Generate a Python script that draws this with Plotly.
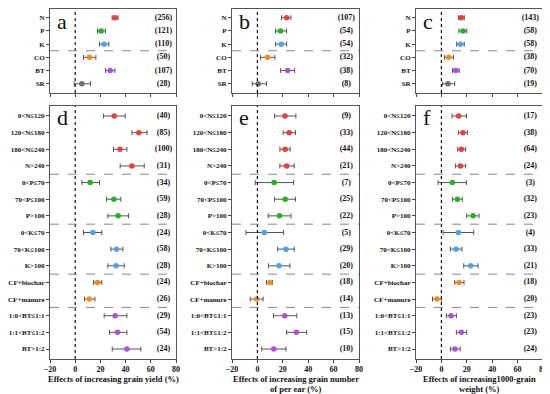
import plotly.graph_objects as go

# ---------------- data ----------------
top_cats = ["N", "P", "K", "CO", "BT", "SR"]
top_colors = ["#e8403c", "#22b422", "#4da3e6", "#f28c1c", "#b050d8", "#707070"]

# panel a: grain yield
a_mean = [31.5, 20.6, 23.0, 11.4, 27.8, 5.3]
a_lo = [29.3, 17.7, 19.3, 6.6, 24.0, -0.8]
a_hi = [34.0, 24.0, 26.7, 16.4, 31.5, 12.2]
a_n = ["(256)", "(121)", "(110)", "(50)", "(107)", "(28)"]

# panel b: grain number per ear
b_mean = [23.0, 18.2, 18.8, 8.0, 23.8, 0.7]
b_lo = [19.0, 14.3, 14.3, 2.5, 18.3, -4.0]
b_hi = [26.4, 23.0, 23.0, 13.8, 29.3, 7.2]
b_n = ["(107)", "(54)", "(54)", "(32)", "(38)", "(8)"]

# panel c: 1000-grain weight
c_mean = [15.7, 17.0, 15.0, 5.7, 11.3, 5.2]
c_lo = [13.5, 13.8, 12.0, 2.4, 8.7, 0.8]
c_hi = [18.0, 20.0, 18.0, 9.5, 14.0, 10.5]
c_n = ["(143)", "(58)", "(58)", "(38)", "(70)", "(19)"]

bot_cats = ["0<N≤120", "120<N≤180", "180<N≤240", "N>240",
            "0<P≤70", "70<P≤100", "P>100",
            "0<K≤70", "70<K≤100", "K>100",
            "CF+biochar", "CF+manure",
            "1:0<BT≤1:1", "1:1<BT≤1:2", "BT>1:2"]
bot_colors = ["#e8403c"] * 4 + ["#22b422"] * 3 + ["#4da3e6"] * 3 + ["#f28c1c"] * 2 + ["#b050d8"] * 3

# panel d
d_mean = [31.0, 50.5, 35.5, 45.0, 11.9, 30.7, 34.1, 14.0, 32.8, 32.5, 17.7, 11.1, 31.7, 33.6, 41.0]
d_lo = [22.5, 45.0, 30.4, 35.7, 5.3, 24.9, 25.9, 6.6, 28.3, 25.9, 14.6, 7.4, 23.0, 27.2, 29.4]
d_hi = [39.7, 57.0, 41.0, 54.8, 19.3, 36.2, 42.3, 21.1, 37.8, 38.9, 21.1, 15.6, 41.0, 41.0, 52.1]
d_n = ["(40)", "(85)", "(100)", "(31)", "(34)", "(59)", "(28)", "(24)", "(58)", "(28)", "(24)", "(26)", "(29)", "(54)", "(24)"]

# panel e
e_mean = [21.7, 25.0, 21.9, 23.0, 13.2, 21.9, 17.4, 5.4, 22.4, 17.0, 9.8, -0.5, 21.5, 30.7, 12.9]
e_lo = [13.5, 20.3, 17.7, 17.7, -1.7, 13.5, 8.5, -9.0, 15.9, 8.7, 7.1, -5.6, 12.7, 23.0, 3.4]
e_hi = [30.3, 30.0, 25.8, 29.0, 28.5, 30.0, 26.4, 20.6, 29.0, 25.6, 11.8, 4.5, 31.0, 38.8, 22.5]
e_n = ["(9)", "(33)", "(44)", "(21)", "(7)", "(25)", "(22)", "(5)", "(29)", "(20)", "(18)", "(14)", "(13)", "(15)", "(10)"]

# panel f
f_mean = [13.6, 17.0, 15.7, 15.0, 8.7, 12.6, 24.9, 13.4, 11.5, 23.0, 13.9, -3.5, 7.6, 15.7, 10.7]
f_lo = [8.4, 13.4, 12.8, 11.0, -2.6, 8.7, 19.9, 1.3, 7.1, 17.6, 10.5, -7.0, 3.9, 11.8, 7.1]
f_hi = [19.7, 20.5, 19.1, 19.1, 19.7, 16.5, 29.6, 25.4, 16.2, 28.8, 17.8, 0.0, 11.8, 19.9, 14.8]
f_n = ["(17)", "(38)", "(64)", "(24)", "(3)", "(32)", "(23)", "(4)", "(33)", "(21)", "(18)", "(20)", "(23)", "(23)", "(24)"]

x_ticks = [-20, 0, 20, 40, 60, 80]
x_titles = [["Effects of increasing grain yield (%)"],
            ["Effects of increasing grain number", "of per ear (%)"],
            ["Effects of increasing1000-grain", "weight (%)"]]
letters = ["a", "b", "c", "d", "e", "f"]

# ---------------- layout ----------------
W, H = 550, 394
OFF = 8  # the page places the figure 8 px from the window's top-left corner
SERIF = "Liberation Serif"
x_doms = [(50, 176), (232, 359), (416, 543)]
top_px = (8.5, 93)
bot_px = (106, 359)


def px_x(v):
    return (v - OFF) / W


def px_y(v):
    return 1 - (v - OFF) / H


def xd(p):
    return [px_x(p[0]), px_x(p[1])]


def yd(p):
    return [px_y(p[1]), px_y(p[0])]


fig = go.Figure()

panels = [
    (top_cats, top_colors, a_mean, a_lo, a_hi, a_n),
    (top_cats, top_colors, b_mean, b_lo, b_hi, b_n),
    (top_cats, top_colors, c_mean, c_lo, c_hi, c_n),
    (bot_cats, bot_colors, d_mean, d_lo, d_hi, d_n),
    (bot_cats, bot_colors, e_mean, e_lo, e_hi, e_n),
    (bot_cats, bot_colors, f_mean, f_lo, f_hi, f_n),
]

shapes = []
annotations = []
for i, (cats, cols, m, lo, hi, ns) in enumerate(panels):
    k = i + 1
    xa = "x" if k == 1 else f"x{k}"
    ya = "y" if k == 1 else f"y{k}"
    pos = list(range(1, len(cats) + 1))
    is_top = i < 3
    fig.add_trace(go.Scatter(
        x=m, y=pos, mode="markers", xaxis=xa, yaxis=ya,
        marker=dict(color=cols, size=5.5, symbol="circle"),
        error_x=dict(type="data", symmetric=False,
                     array=[h - v for h, v in zip(hi, m)],
                     arrayminus=[v - l for v, l in zip(m, lo)],
                     color="#555555", thickness=1, width=2.5),
        showlegend=False, hoverinfo="skip"))
    fig.add_trace(go.Scatter(
        x=[70] * len(cats), y=pos, mode="text", text=ns, xaxis=xa, yaxis=ya,
        textfont=dict(family=SERIF, size=8, color="#111", weight="bold"),
        showlegend=False, hoverinfo="skip"))
    xkey = "xaxis" if k == 1 else f"xaxis{k}"
    ykey = "yaxis" if k == 1 else f"yaxis{k}"
    fig.layout[xkey] = dict(
        domain=xd(x_doms[i % 3]), anchor=ya, range=[-20, 80], automargin=False,
        tickvals=x_ticks, showticklabels=not is_top, ticklabelstandoff=-1,
        ticks="outside", ticklen=3, tickcolor="#444", tickwidth=1,
        showline=True, linecolor="#555", linewidth=1, mirror=True,
        showgrid=False, zeroline=False,
        tickfont=dict(family=SERIF, size=8, color="#111", weight="bold"))
    fig.layout[ykey] = dict(
        domain=yd(top_px if is_top else bot_px), anchor=xa, automargin=False,
        range=[6.7, 0.3] if is_top else [15.6, 0.4],
        tickvals=pos, ticktext=cats, ticklabelstandoff=0,
        ticks="outside", ticklen=3, tickcolor="#444", tickwidth=1,
        showline=True, linecolor="#555", linewidth=1, mirror=True,
        showgrid=False, zeroline=False,
        tickfont=dict(family=SERIF, size=7, color="#111", weight="bold"))
    # zero line
    shapes.append(dict(type="line", xref=xa, yref=f"{ya} domain", x0=0, x1=0,
                       y0=0, y1=1, line=dict(color="#111", width=1.2, dash="dot")))
    seps = [3.5] if is_top else [4.5, 7.5, 10.5, 12.5]
    for s in seps:
        shapes.append(dict(type="line", xref=f"{xa} domain", yref=ya, x0=0, x1=1,
                           y0=s, y1=s, line=dict(color="#888", width=1, dash="dash")))
    annotations.append(dict(
        text=letters[i], xref=f"{xa} domain", yref="paper",
        x=0.04, y=px_y(21 if is_top else 117),
        xanchor="left", yanchor="middle", showarrow=False,
        font=dict(family=SERIF, size=22, color="#111")))
    if not is_top:
        cx = (x_doms[i % 3][0] + x_doms[i % 3][1]) / 2
        for j, line in enumerate(x_titles[i - 3]):
            annotations.append(dict(
                text=line, xref="paper", yref="paper",
                x=px_x(cx), y=px_y(378.5 + 10.5 * j),
                xanchor="center", yanchor="middle", showarrow=False,
                font=dict(family=SERIF, size=8.5, color="#111", weight="bold")))

fig.update_layout(
    width=W, height=H, margin=dict(l=0, r=0, t=0, b=0),
    paper_bgcolor="white", plot_bgcolor="white",
    shapes=shapes, annotations=annotations,
)

fig.write_html("out.html")
